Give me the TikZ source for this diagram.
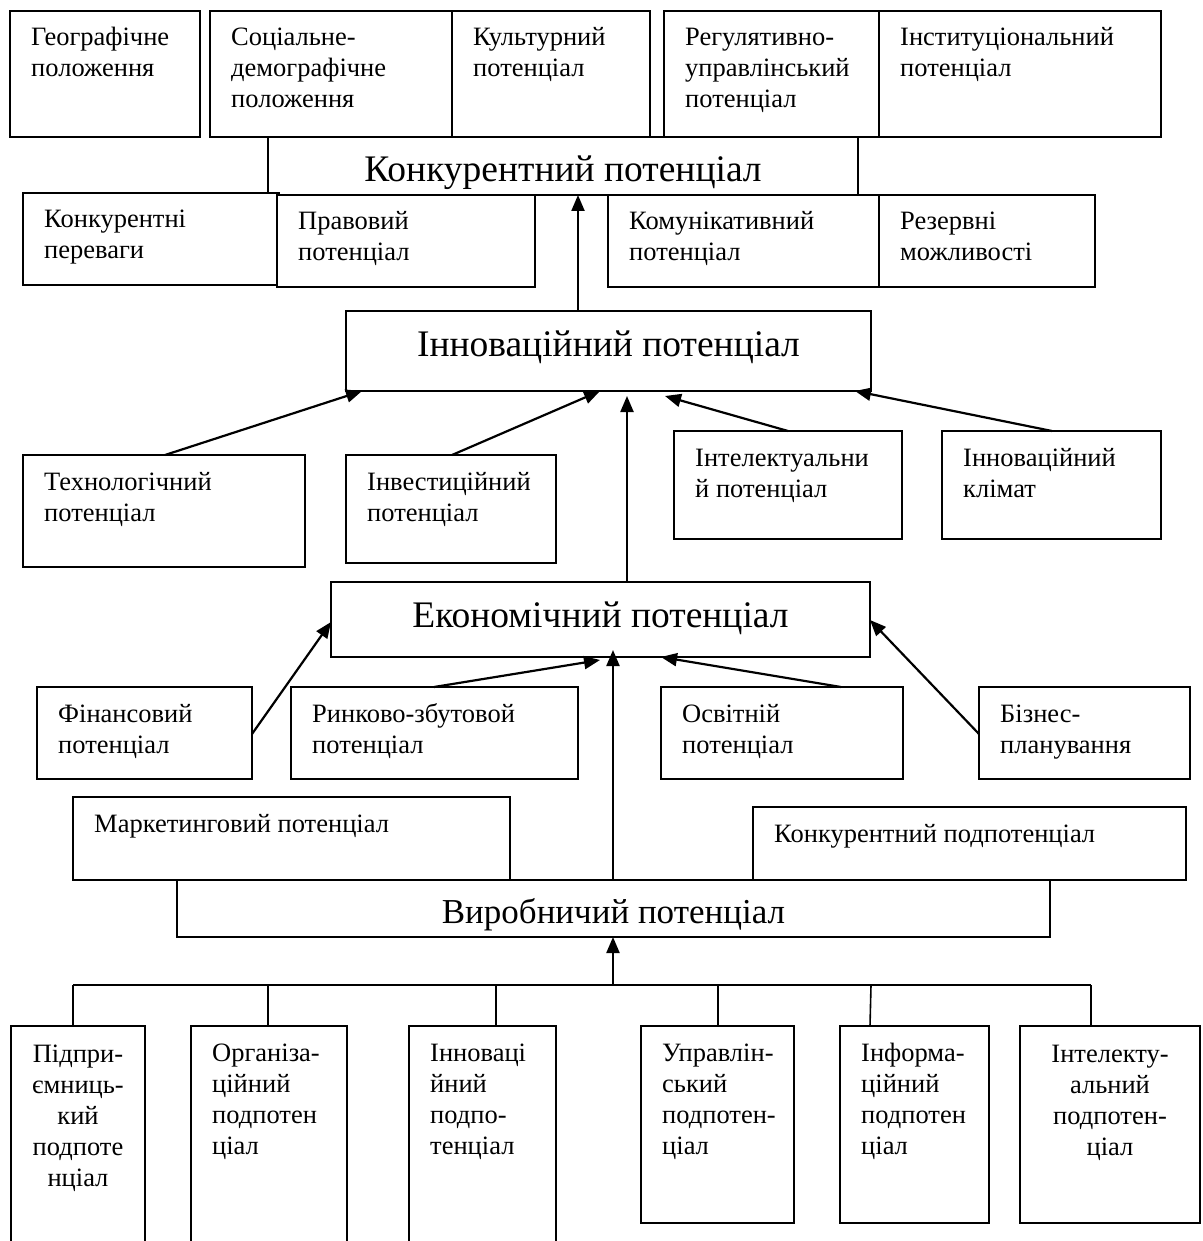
\documentclass[tikz,border=0pt]{standalone}
\usepackage{fontspec}
\setmainfont{Liberation Serif}
\usetikzlibrary{arrows.meta,calc,fit}

% stacked lines whose baseline is the first line
\newcommand\linesL[1]{\vtop{\baselineskip=31pt\lineskiplimit=-20pt\halign{##\hfil\cr#1\crcr}}}
\newcommand\linesC[1]{\vtop{\baselineskip=31pt\lineskiplimit=-20pt\halign{\hfil##\hfil\cr#1\crcr}}}

\tikzset{
  box/.style={draw, fill=white, line width=1.6pt, inner sep=0pt, outer sep=0pt, rectangle},
  small/.style={font=\fontsize{26.5}{31}\selectfont, inner sep=0pt},
  big/.style={font=\fontsize{37.5}{42}\selectfont, inner sep=0pt},
  bigb/.style={font=\fontsize{35}{40}\selectfont, inner sep=0pt},
  conn/.style={line width=1.6pt},
  arr/.style={line width=2.2pt, -{Triangle[length=16pt,width=13pt]}},
}

% box from its corners (x1,y1)-(x2,y2), y counted downwards
\newcommand\bx[5]{%
  \coordinate (#1-a) at (#2,#3);
  \coordinate (#1-b) at (#4,#5);
  \node[box, fit=(#1-a)(#1-b)] (#1) {};}
% text set from the top-left corner of a box
\newcommand\tl[2]{\node[small, anchor=base west] (#1-t) at ($(#1.north west)+(21,35)$) {\linesL{#2}};}
% centred text
\newcommand\tc[3]{\node[small, anchor=base] (#1-t) at ($(#1.north)+(0,#2)$) {\linesC{#3}};}
% big title
\newcommand\tb[4][big]{\node[#1, anchor=base] (#2-t) at ($(#2.north)+(0,#3)$) {#4};}

\begin{document}
\begin{tikzpicture}[x=1pt, y=-1pt]
\useasboundingbox (0,0) rectangle (1202,1241);
\clip (0,0) rectangle (1202,1241);

% competitive potential level
\bx{konk}{268}{137}{858}{195}
\tb{konk}{45}{Конкурентний потенціал}

\bx{geo}{10}{11}{200}{137}
\tl{geo}{Географічне\cr положення}
\bx{soc}{210}{11}{452}{137}
\tl{soc}{Соціальне-\cr демографічне\cr положення}
\bx{kult}{452}{11}{650}{137}
\tl{kult}{Культурний\cr потенціал}
\bx{reg}{664}{11}{879}{137}
\tl{reg}{Регулятивно-\cr управлінський\cr потенціал}
\bx{inst}{879}{11}{1161}{137}
\tl{inst}{Інституціональний\cr потенціал}

\bx{kperev}{23}{193}{279}{285}
\tl{kperev}{Конкурентні\cr переваги}
\bx{prav}{277}{195}{535}{287}
\tl{prav}{Правовий\cr потенціал}
\bx{komun}{608}{195}{879}{287}
\tl{komun}{Комунікативний\cr потенціал}
\bx{rezerv}{879}{195}{1095}{287}
\tl{rezerv}{Резервні\cr можливості}

% innovation level
\bx{inn}{346}{311}{871}{391}
\tb{inn}{45}{Інноваційний потенціал}

\bx{tech}{23}{455}{305}{567}
\tl{tech}{Технологічний\cr потенціал}
\bx{invest}{346}{455}{556}{563}
\tl{invest}{Інвестиційний\cr потенціал}
\bx{intel}{674}{431}{902}{539}
\tl{intel}{Інтелектуальни\cr й потенціал}
\bx{klimat}{942}{431}{1161}{539}
\tl{klimat}{Інноваційний\cr клімат}

% economic level
\bx{econ}{331}{582}{870}{657}
\tb{econ}{45}{Економічний потенціал}

\bx{fin}{37}{687}{252}{779}
\tl{fin}{Фінансовий\cr потенціал}
\bx{rynk}{291}{687}{578}{779}
\tl{rynk}{Ринково-збутовой\cr потенціал}
\bx{osv}{661}{687}{903}{779}
\tl{osv}{Освітній\cr потенціал}
\bx{biz}{979}{687}{1190}{779}
\tl{biz}{Бізнес-\cr планування}

% production level
\bx{vyrob}{177}{880}{1050}{937}
\bx{market}{73}{797}{510}{880}
\tl{market}{Маркетинговий потенціал}
\bx{kpod}{753}{807}{1186}{880}
\tl{kpod}{Конкурентний подпотенціал}
\tb[bigb]{vyrob}{43}{Виробничий потенціал}

% sub-potentials
\bx{pidpr}{11}{1026}{145}{1270}
\tc{pidpr}{36}{Підпри-\cr ємниць-\cr кий\cr подпоте\cr нціал}
\bx{org}{191}{1026}{347}{1270}
\tl{org}{Організа-\cr ційний\cr подпотен\cr ціал}
\bx{innp}{409}{1026}{556}{1270}
\tl{innp}{Інноваці\cr йний\cr подпо-\cr тенціал}
\bx{upr}{641}{1026}{794}{1223}
\tl{upr}{Управлін-\cr ський\cr подпотен-\cr ціал}
\bx{inf}{840}{1026}{989}{1223}
\tl{inf}{Інформа-\cr ційний\cr подпотен\cr ціал}
\bx{intp}{1020}{1026}{1200}{1223}
\tc{intp}{36}{Інтелекту-\cr альний\cr подпотен-\cr ціал}

% bus under the production level
\coordinate (busL) at (73,985);
\coordinate (busR) at (1091,985);
\coordinate (busM) at (613,985);
\draw[conn] (busL) -- (busR);
\draw[conn] (busL) -- (busL |- pidpr.north);
\draw[conn] ($(org.north west)+(77,0)$) -- ($(org.north west)+(77,-41)$);
\draw[conn] ($(innp.north west)+(87,0)$) -- ($(innp.north west)+(87,-41)$);
\draw[conn] ($(upr.north west)+(77,0)$) -- ($(upr.north west)+(77,-41)$);
\draw[conn] ($(inf.north west)+(30,0)$) -- ($(inf.north west)+(31,-41)$);
\draw[conn] (busR) -- (busR |- intp.north);

% arrows
\draw[arr] (busM) -- (busM |- vyrob.south);
\draw[arr] ($(vyrob.north west)+(436,0)$) -- ($(econ.south west)+(282,-7)$);
\draw[arr] ($(fin.north east)+(0,47)$) -- ($(econ.north west)+(0,40)$);
\draw[arr] ($(rynk.north west)+(143,0)$) -- ($(econ.south west)+(269,3)$);
\draw[arr] ($(osv.north west)+(180,0)$) -- ($(econ.south west)+(330,0)$);
\draw[arr] ($(biz.north west)+(0,47)$) -- ($(econ.north east)+(0,38)$);

\draw[arr] ($(econ.north west)+(296,0)$) -- ($(inn.south west)+(281,5)$);
\draw[arr] ($(tech.north west)+(142,0)$) -- ($(inn.south west)+(16,0)$);
\draw[arr] ($(invest.north west)+(106,0)$) -- ($(inn.south west)+(254,0)$);
\draw[arr] ($(intel.north west)+(114,0)$) -- ($(inn.south west)+(319,5)$);
\draw[arr] ($(klimat.north west)+(110,0)$) -- ($(inn.south west)+(509,0)$);

\draw[arr] ($(inn.north west)+(232,0)$) -- ($(konk.south west)+(310,0)$);
\end{tikzpicture}
\end{document}
